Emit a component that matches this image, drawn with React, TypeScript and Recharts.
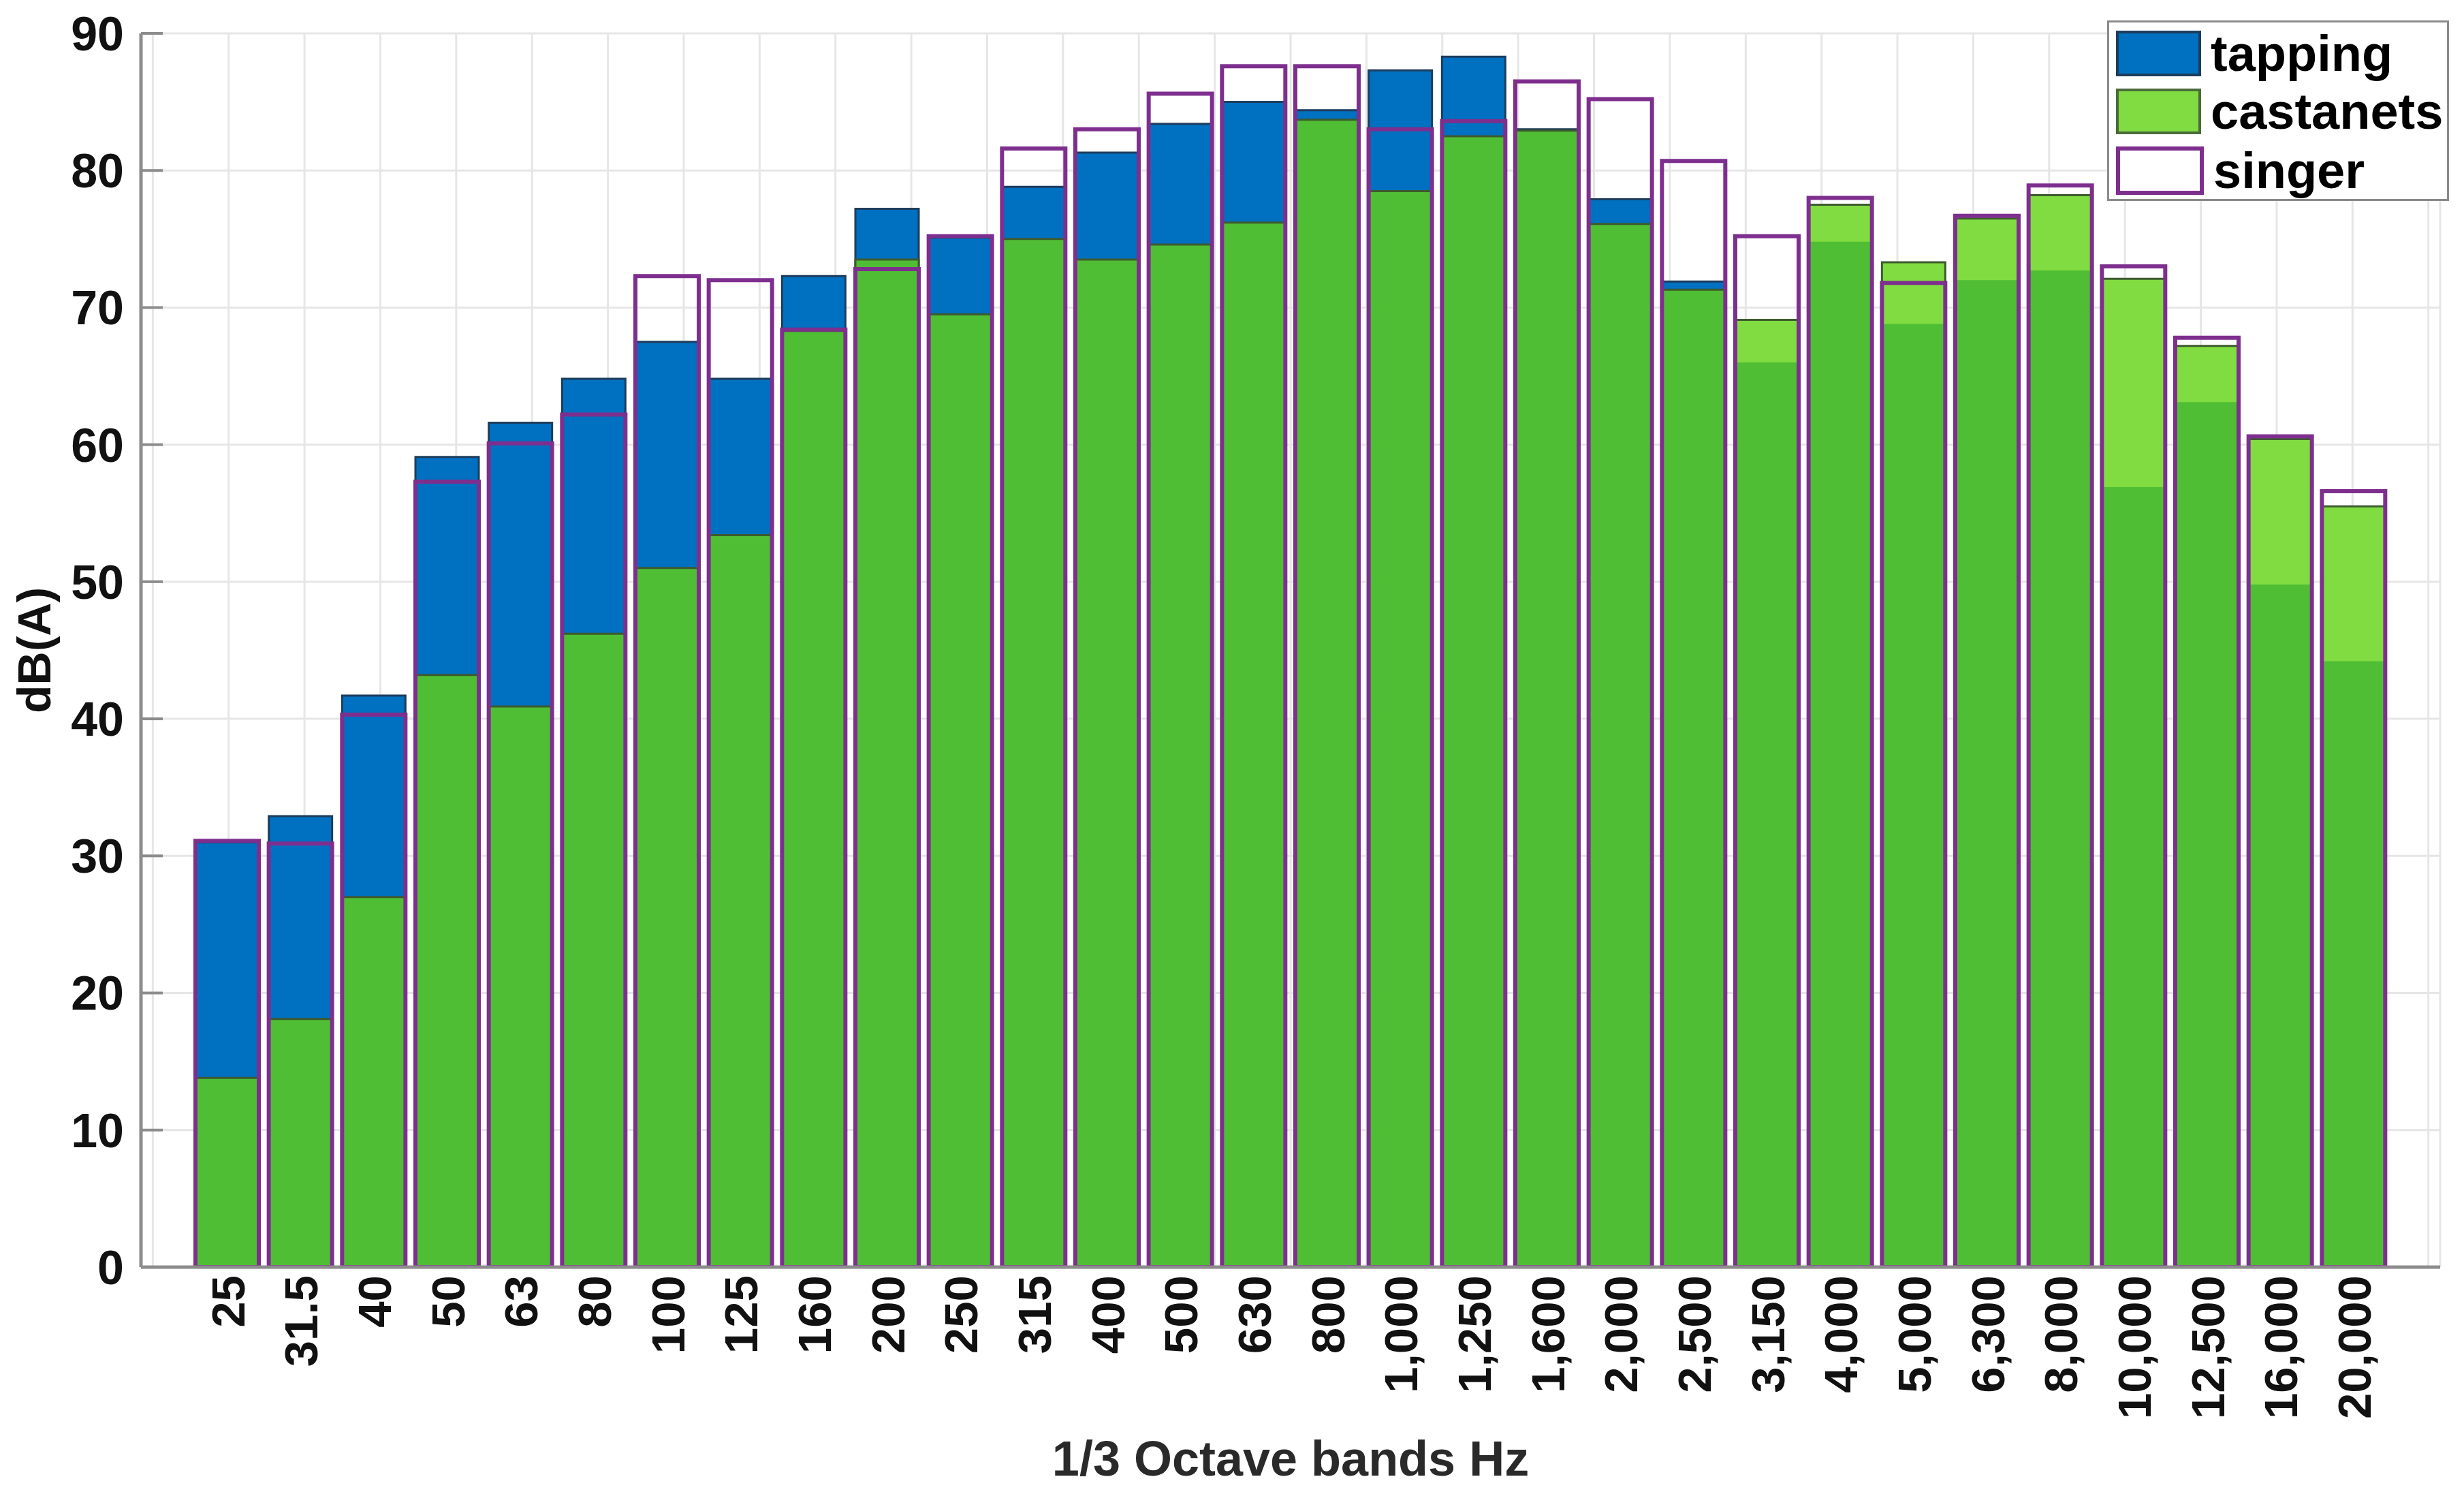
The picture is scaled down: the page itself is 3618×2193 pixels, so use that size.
import { BarChart, Bar, XAxis, YAxis, CartesianGrid } from 'recharts';

// 1/3 octave band centre frequencies (Hz)
const bands = [
  '25', '31.5', '40', '50', '63', '80', '100', '125', '160', '200',
  '250', '315', '400', '500', '630', '800', '1,000', '1,250', '1,600', '2,000',
  '2,500', '3,150', '4,000', '5,000', '6,300', '8,000', '10,000', '12,500', '16,000', '20,000',
];

// levels in dB(A)
const tapping = [
  31.0, 32.9, 41.7, 59.1, 61.6, 64.8, 67.5, 64.8, 72.3, 77.2,
  75.1, 78.8, 81.3, 83.4, 85.0, 84.4, 87.3, 88.3, 83.0, 77.9,
  71.9, 66.0, 74.8, 68.8, 72.0, 72.7, 56.9, 63.1, 49.8, 44.2,
];
const castanets = [
  13.8, 18.1, 27.0, 43.2, 40.9, 46.2, 51.0, 53.4, 68.3, 73.5,
  69.5, 75.0, 73.5, 74.6, 76.2, 83.7, 78.5, 82.5, 82.9, 76.1,
  71.3, 69.1, 77.5, 73.3, 76.5, 78.2, 72.1, 67.2, 60.4, 55.5,
];
const singer = [
  31.1, 30.9, 40.3, 57.3, 60.1, 62.2, 72.3, 72.0, 68.4, 72.8,
  75.2, 81.6, 83.0, 85.6, 87.6, 87.6, 83.0, 83.6, 86.5, 85.2,
  80.7, 75.2, 78.0, 71.8, 76.7, 78.9, 73.0, 67.8, 60.6, 56.6,
];

const yTicks = [0, 10, 20, 30, 40, 50, 60, 70, 80, 90];

// band edges, used for the vertical grid lines
const bandEdges = [...bands.map((_, i) => i - 0.5), bands.length - 0.5];

const data = bands.map((band, i) => ({
  band,
  tapping: tapping[i],
  castanets: castanets[i],
  overlap: Math.min(tapping[i], castanets[i]),
  singer: singer[i],
}));

const FONT = "'Liberation Sans', Arial, Helvetica, sans-serif";
const BLUE = '#0070c0';
const LIGHT_GREEN = '#80dc40';
const MID_GREEN = '#50be34';
const PURPLE = '#7e2f8e';
const AXIS = '#8c8c8c';

const BandTick = (props: any) => {
  const { x, y, payload } = props;
  return (
    <text
      x={x}
      y={y}
      transform={`rotate(-90, ${x}, ${y})`}
      textAnchor='end'
      dy='0.36em'
      fontSize={69}
      fontWeight='bold'
      fontFamily={FONT}
      fill='#111'
    >
      {payload.value}
    </text>
  );
};

const renderYLabel = (props: any) => {
  const { viewBox } = props;
  const x = viewBox.x + 50;
  const y = viewBox.y + viewBox.height / 2;
  return (
    <text
      x={x}
      y={y}
      transform={`rotate(-90, ${x}, ${y})`}
      textAnchor='middle'
      dy='0.36em'
      fontSize={68}
      fontWeight='bold'
      fontFamily={FONT}
      fill='#111'
    >
      dB(A)
    </text>
  );
};

const renderXLabel = (props: any) => {
  const { viewBox } = props;
  return (
    <text
      x={viewBox.x + viewBox.width / 2}
      y={viewBox.y + 280}
      textAnchor='middle'
      dy='0.36em'
      fontSize={72}
      fontWeight='bold'
      fontFamily={FONT}
      fill='#2a2a2a'
    >
      1/3 Octave bands Hz
    </text>
  );
};

const legendItems = [
  { name: 'tapping', fill: BLUE, stroke: '#1d3d5c', top: 12 },
  { name: 'castanets', fill: LIGHT_GREEN, stroke: '#4b6b3a', top: 97 },
  { name: 'singer', fill: '#fff', stroke: PURPLE, top: 184 },
];

const ChartLegend = () => (
  <div
    style={{
      position: 'absolute',
      left: 3094,
      top: 30,
      width: 496,
      height: 259,
      border: '3px solid #8a8a8a',
      background: '#fff',
      fontFamily: FONT,
    }}
  >
    {legendItems.map((it) => (
      <div
        key={it.name}
        style={{ position: 'absolute', left: 10, top: it.top, height: 67, display: 'flex', alignItems: 'center' }}
      >
        <div
          style={{
            width: 117,
            height: 59,
            background: it.fill,
            border: `${it.name === 'singer' ? 6 : 4}px solid ${it.stroke}`,
          }}
        />
        <span style={{ marginLeft: 14, fontSize: 74, fontWeight: 'bold', color: '#000', lineHeight: 1 }}>
          {it.name}
        </span>
      </div>
    ))}
  </div>
);

export default function App() {
  return (
    <div style={{ position: 'absolute', left: 0, top: 0, width: 3618, height: 2193, background: '#fff' }}>
      <BarChart
        width={3618}
        height={2193}
        data={data}
        margin={{ top: 49, right: 35, left: 0, bottom: 0 }}
        barSize={93}
        barGap={-93}
      >
        <CartesianGrid xAxisId='grid' stroke='#e6e6e6' strokeWidth={3} />
        <XAxis
          xAxisId='grid'
          type='number'
          domain={[-0.5, bands.length - 0.5]}
          ticks={bandEdges}
          allowDataOverflow
          hide
          padding={{ left: 73, right: 73 }}
        />
        <XAxis
          dataKey='band'
          interval={0}
          height={333}
          padding={{ left: 73, right: 73 }}
          tickLine={false}
          tickMargin={6}
          axisLine={{ stroke: AXIS, strokeWidth: 5 }}
          tick={<BandTick />}
          label={{ content: renderXLabel }}
        />
        <YAxis
          width={207}
          domain={[0, 90]}
          ticks={yTicks}
          interval={0}
          allowDataOverflow
          tickSize={-32}
          tickMargin={57}
          tickLine={{ stroke: AXIS, strokeWidth: 4 }}
          axisLine={{ stroke: AXIS, strokeWidth: 5 }}
          tick={{ fontSize: 70, fontWeight: 'bold', fill: '#111', fontFamily: FONT }}
          label={{ content: renderYLabel }}
        />
        <Bar dataKey='tapping' fill={BLUE} stroke='#1d3d5c' strokeWidth={3} isAnimationActive={false} />
        <Bar dataKey='castanets' fill={LIGHT_GREEN} isAnimationActive={false} />
        <Bar dataKey='overlap' fill={MID_GREEN} isAnimationActive={false} />
        <Bar dataKey='castanets' fill='none' stroke='#3d5a2e' strokeWidth={3} isAnimationActive={false} />
        <Bar dataKey='singer' fill='none' stroke={PURPLE} strokeWidth={6} isAnimationActive={false} />
      </BarChart>
      <ChartLegend />
    </div>
  );
}
